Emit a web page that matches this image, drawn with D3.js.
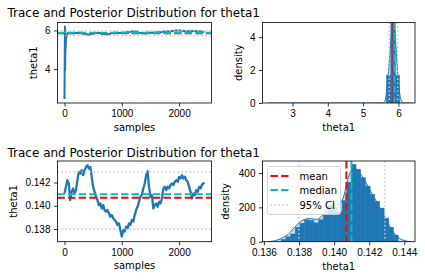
<!DOCTYPE html>
<html lang="en">
<head>
<meta charset="UTF-8">
<title>Trace and Posterior Distribution for theta1</title>
<style>
  body { margin: 0; background: #fff; }
  svg { display: block; font-family: "DejaVu Sans", sans-serif; }
  .tick text { font-size: 10px; fill: #000; }
  .tick line { stroke: #000; stroke-width: 0.8; }
  .lbl { font-size: 10px; fill: #000; }
</style>
</head>
<body>
<div id="chart"></div>
<script src="https://d3js.org/d3.v7.min.js"></script>
<script>
// ---- row 1 (with burn-in) ----
var topSamples = [0,4,8,12,16,20,25,30,40,50,
  75,100,125,150,175,200,225,250,275,300,325,350,375,400,425,450,475,500,525,550,
  575,600,625,650,675,700,725,750,775,800,825,850,875,900,925,950,975,1000,1025,1050,
  1075,1100,1125,1150,1175,1200,1225,1250,1275,1300,1325,1350,1375,1400,1425,1450,1475,1500,1525,1550,
  1575,1600,1625,1650,1675,1700,1725,1750,1775,1800,1825,1850,1875,1900,1925,1950,1975,2000,2025,2050,
  2075,2100,2125,2150,2175,2200,2225,2250,2275,2300,2325,2350,2375,2400,2425,2442];
var topValues = [2.45,4.6,6.2,3.95,5.3,5.05,5.5,5.62,5.74,5.84,
  5.88,5.86,5.87,5.85,5.88,5.86,5.88,5.87,5.89,5.86,
  5.84,5.81,5.79,5.80,5.78,5.80,5.81,5.84,5.86,5.88,
  5.86,5.87,5.85,5.82,5.81,5.80,5.82,5.79,5.81,5.84,
  5.86,5.88,5.87,5.89,5.88,5.86,5.88,5.87,5.89,5.88,
  5.90,5.92,5.91,5.93,5.95,5.96,5.94,5.95,5.92,5.89,
  5.87,5.85,5.86,5.84,5.87,5.89,5.88,5.87,5.89,5.88,
  5.90,5.89,5.91,5.92,5.90,5.92,5.94,5.93,5.95,5.96,
  5.94,5.96,5.98,5.97,5.99,6.00,5.98,6.00,5.99,5.97,
  5.98,5.96,5.97,5.95,5.97,5.98,5.96,5.97,5.98,5.96,
  5.97,5.95,5.96,5.94,5.93,5.92];
var topMean = 5.855, topMedian = 5.88, topCI = [5.74, 5.98];
var topBinEdges = [5.66, 5.785, 5.91, 6.035];
var topDensity = [1.7, 4.95, 1.7];
var topKdeX = [2.3, 5.0, 5.55, 5.6, 5.66, 5.72, 5.78, 5.85, 5.9, 5.95, 6.0, 6.05, 6.1, 6.15, 6.4];
var topKdeY = [0, 0, 0, 0.05, 0.6, 1.9, 3.6, 4.9, 4.3, 2.8, 1.3, 0.4, 0.08, 0, 0];

// ---- row 2 (after burn-in) ----
var botSamples = [0,25,50,75,100,125,150,175,200,225,250,275,300,325,350,375,400,425,450,475,
  500,525,550,575,600,625,650,675,700,725,750,775,800,825,850,875,900,925,950,975,
  1000,1025,1050,1075,1100,1125,1150,1175,1200,1225,1250,1275,1300,1325,1350,1375,1400,1425,1450,1475,
  1500,1525,1550,1575,1600,1625,1650,1675,1700,1725,1750,1775,1800,1825,1850,1875,1900,1925,1950,1975,
  2000,2025,2050,2075,2100,2125,2150,2175,2200,2225,2250,2275,2300,2325,2350,2375,2400,2425,2442];
var botValues = [0.14106,0.14163,0.14220,0.14192,0.14049,0.14120,0.14149,0.14106,0.14134,0.14220,
  0.14292,0.14277,0.14306,0.14263,0.14306,0.14334,0.14349,0.14320,0.14334,0.14249,
  0.14163,0.14120,0.14077,0.14049,0.14006,0.14020,0.13977,0.14006,0.13963,0.13949,
  0.13963,0.13935,0.13906,0.13920,0.13892,0.13878,0.13863,0.13835,0.13849,0.13792,
  0.13735,0.13792,0.13778,0.13820,0.13806,0.13849,0.13835,0.13878,0.13863,0.13920,
  0.13963,0.13992,0.14035,0.14077,0.14092,0.14149,0.14192,0.14263,0.14297,0.14163,
  0.14077,0.14092,0.13977,0.14006,0.14020,0.13992,0.14035,0.14020,0.14063,0.14149,
  0.14163,0.14134,0.14163,0.14149,0.14178,0.14192,0.14178,0.14206,0.14220,0.14206,
  0.14249,0.14234,0.14263,0.14234,0.14249,0.14220,0.14206,0.14163,0.14120,0.14063,
  0.14106,0.14092,0.14134,0.14120,0.14163,0.14149,0.14183,0.14192,0.14200];
var botMean = 0.14070, botMedian = 0.14099, botCI = [0.13799, 0.14290];
var botBinEdges = [0.13698,0.137247,0.137514,0.137781,0.138048,0.138315,0.138582,0.138849,0.139116,
  0.139383,0.13965,0.139917,0.140184,0.140451,0.140718,0.140985,0.141252,0.141519,0.141786,
  0.142053,0.14232,0.142587,0.142854,0.143121,0.143388,0.143655];
var botDensity = [14,29,45,84,108,127,125,110,128,160,210,200,175,240,347,451,422,373,324,275,235,196,137,84,39];
var botKdeX = [0.1362,0.1366,0.1370,0.1374,0.1378,0.1382,0.1386,0.1390,0.1394,0.1398,0.1402,0.1405,
  0.1408,0.1411,0.1414,0.1417,0.1420,0.1423,0.1426,0.1429,0.1432,0.1435,0.1438,0.1441,0.1444];
var botKdeY = [0,5,20,45,90,125,135,130,160,210,215,250,370,430,410,365,310,255,200,140,85,40,15,4,0];

var legendLabels = ["mean", "median", "95% CI"];
var titleText = "Trace and Posterior Distribution for theta1";

var blue = "#1f77b4", red = "#ff0000", cyan = "#00bfbf", ciGray = "#c8c8c8";

var svg = d3.select("#chart").append("svg").attr("width", 425).attr("height", 280);
svg.append("rect").attr("width", 425).attr("height", 280).attr("fill", "#fff");

var rows = [
  { titleY: 17, top: 22.5, bottom: 103,
    samples: topSamples, values: topValues, mean: topMean, median: topMedian, ci: topCI,
    traceY: [2.24, 6.41], traceTicks: [4, 6], traceFmt: d3.format("d"), yLabelX: 37,
    edges: topBinEdges, dens: topDensity, kx: topKdeX, ky: topKdeY,
    histX: [2.15, 6.47], histXTicks: [3, 4, 5, 6], histXFmt: d3.format("d"),
    histY: [0, 4.89], histYTicks: [0, 2, 4], densLabelX: 241.5, legend: false },
  { titleY: 157, top: 161, bottom: 241.7,
    samples: botSamples, values: botValues, mean: botMean, median: botMedian, ci: botCI,
    traceY: [0.13691, 0.14385], traceTicks: [0.138, 0.140, 0.142], traceFmt: d3.format(".3f"), yLabelX: 16.5,
    edges: botBinEdges, dens: botDensity, kx: botKdeX, ky: botKdeY,
    histX: [0.13592, 0.14461], histXTicks: [0.136, 0.138, 0.140, 0.142, 0.144], histXFmt: d3.format(".3f"),
    histY: [0, 470], histYTicks: [0, 200, 400], densLabelX: 229, legend: true }
];

function styleAxis(g) {
  g.select(".domain").remove();
}

function refLine(g, x1, y1, x2, y2, color, kind) {
  g.append("line").attr("x1", x1).attr("y1", y1).attr("x2", x2).attr("y2", y2)
    .attr("stroke", color)
    .attr("stroke-width", kind === "dot" ? 1.5 : 2)
    .attr("stroke-dasharray", kind === "dot" ? "1.5,2.5" : "7.4,3.2");
}

rows.forEach(function(r, i) {
  svg.append("text").attr("x", 7.5).attr("y", r.titleY)
    .style("font-size", "12px").text(titleText);

  // trace panel
  var L = 57.5, R = 211.5;
  var x = d3.scaleLinear().domain([-122, 2565]).range([L, R]);
  var y = d3.scaleLinear().domain(r.traceY).range([r.bottom, r.top]);
  svg.append("clipPath").attr("id", "clipT" + i).append("rect")
    .attr("x", L).attr("y", r.top).attr("width", R - L).attr("height", r.bottom - r.top);
  var gt = svg.append("g").attr("clip-path", "url(#clipT" + i + ")");
  var pts = d3.zip(r.samples, r.values);
  gt.append("path").datum(pts)
    .attr("fill", "none").attr("stroke", blue).attr("stroke-width", i ? 2.3 : 2)
    .attr("stroke-linejoin", "round")
    .attr("d", d3.line().x(function(d){ return x(d[0]); }).y(function(d){ return y(d[1]); }));
  refLine(gt, L, y(r.mean), R, y(r.mean), red, "dash");
  refLine(gt, L, y(r.median), R, y(r.median), cyan, "dash");
  r.ci.forEach(function(c){ refLine(gt, L, y(c), R, y(c), ciGray, "dot"); });

  svg.append("g").attr("transform", "translate(0," + r.bottom + ")")
    .call(d3.axisBottom(x).tickValues([0, 1000, 2000]).tickFormat(d3.format("d")).tickSize(3.5).tickPadding(3.5))
    .call(styleAxis);
  svg.append("g").attr("transform", "translate(" + L + ",0)")
    .call(d3.axisLeft(y).tickValues(r.traceTicks).tickFormat(r.traceFmt).tickSize(3.5).tickPadding(3.5))
    .call(styleAxis);
  svg.append("rect").attr("x", L).attr("y", r.top).attr("width", R - L).attr("height", r.bottom - r.top)
    .attr("fill", "none").attr("stroke", "#000").attr("stroke-width", 0.8);
  svg.append("text").attr("class", "lbl").attr("x", (L + R) / 2).attr("y", r.bottom + 27.5)
    .attr("text-anchor", "middle").text("samples");
  svg.append("text").attr("class", "lbl").attr("text-anchor", "middle")
    .attr("transform", "translate(" + r.yLabelX + "," + (r.top + r.bottom) / 2 + ") rotate(-90)")
    .text("theta1");

  // histogram panel
  var HL = 262.5, HR = 415;
  var hx = d3.scaleLinear().domain(r.histX).range([HL, HR]);
  var hy = d3.scaleLinear().domain(r.histY).range([r.bottom, r.top]);
  svg.append("clipPath").attr("id", "clipH" + i).append("rect")
    .attr("x", HL).attr("y", r.top).attr("width", HR - HL).attr("height", r.bottom - r.top);
  var gh = svg.append("g").attr("clip-path", "url(#clipH" + i + ")");
  gh.selectAll("rect.bar").data(r.dens).enter().append("rect")
    .attr("class", "bar")
    .attr("x", function(d, k){ return hx(r.edges[k]); })
    .attr("width", function(d, k){ return hx(r.edges[k + 1]) - hx(r.edges[k]); })
    .attr("y", function(d){ return hy(d); })
    .attr("height", function(d){ return hy(0) - hy(d); })
    .attr("fill", blue).attr("stroke", blue).attr("stroke-width", 0.4);
  var kde = d3.zip(r.kx, r.ky);
  gh.append("path").datum(kde).attr("fill", blue).attr("fill-opacity", 0.25)
    .attr("d", d3.area().curve(d3.curveMonotoneX)
      .x(function(d){ return hx(d[0]); }).y0(hy(0)).y1(function(d){ return hy(d[1]); }));
  gh.append("path").datum(kde).attr("fill", "none").attr("stroke", blue).attr("stroke-width", 1)
    .attr("d", d3.line().curve(d3.curveMonotoneX)
      .x(function(d){ return hx(d[0]); }).y(function(d){ return hy(d[1]); }));
  refLine(gh, hx(r.mean), r.top, hx(r.mean), r.bottom, red, "dash");
  refLine(gh, hx(r.median), r.top, hx(r.median), r.bottom, cyan, "dash");
  r.ci.forEach(function(c){ refLine(gh, hx(c), r.top, hx(c), r.bottom, ciGray, "dot"); });

  svg.append("g").attr("transform", "translate(0," + r.bottom + ")")
    .call(d3.axisBottom(hx).tickValues(r.histXTicks).tickFormat(r.histXFmt).tickSize(3.5).tickPadding(3.5))
    .call(styleAxis);
  svg.append("g").attr("transform", "translate(" + HL + ",0)")
    .call(d3.axisLeft(hy).tickValues(r.histYTicks).tickFormat(d3.format("d")).tickSize(3.5).tickPadding(3.5))
    .call(styleAxis);
  svg.append("rect").attr("x", HL).attr("y", r.top).attr("width", HR - HL).attr("height", r.bottom - r.top)
    .attr("fill", "none").attr("stroke", "#000").attr("stroke-width", 0.8);
  svg.append("text").attr("class", "lbl").attr("x", (HL + HR) / 2).attr("y", r.bottom + 28)
    .attr("text-anchor", "middle").text("theta1");
  svg.append("text").attr("class", "lbl").attr("text-anchor", "middle")
    .attr("transform", "translate(" + r.densLabelX + "," + (r.top + r.bottom) / 2 + ") rotate(-90)")
    .text("density");

  if (r.legend) {
    var lg = svg.append("g").attr("transform", "translate(267.5,166.5)");
    lg.append("rect").attr("width", 73).attr("height", 48).attr("rx", 2)
      .attr("fill", "#fff").attr("fill-opacity", 0.8).attr("stroke", "#cccccc").attr("stroke-width", 0.8);
    var colors = [red, cyan, ciGray], kinds = ["dash", "dash", "dot"], ys = [9.5, 23.5, 38.5];
    legendLabels.forEach(function(t, k) {
      refLine(lg, 3, ys[k], 23, ys[k], colors[k], kinds[k]);
      lg.append("text").attr("class", "lbl").attr("x", 32).attr("y", ys[k]).attr("dy", "0.35em").text(t);
    });
  }
});
</script>
</body>
</html>
